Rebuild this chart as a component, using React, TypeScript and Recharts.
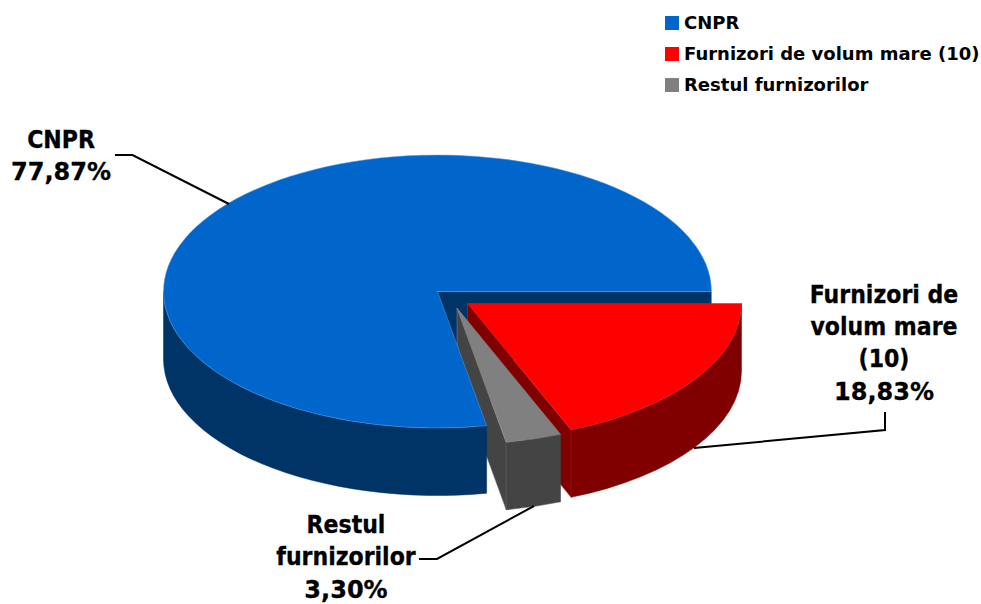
import React from 'react';
import { PieChart, Pie, Legend } from 'recharts';

const categories = ['CNPR', 'Furnizori de volum mare (10)', 'Restul furnizorilor'];
const shares = [77.87, 18.83, 3.3];
const labelRows = [['CNPR'], ['Furnizori de', 'volum mare', '(10)'], ['Restul', 'furnizorilor']];

const topColors = ['#0066CC', '#FF0000', '#808080'];
const sideColors = ['#003366', '#800000', '#444444'];
const edgeColors = ['#5B9BE0', '#B03030', '#8A8A8A'];

const FONT = '"DejaVu Sans", sans-serif';
const CX = 437.5;
const CY = 291.5;
const RX = 274;
const RY = 136.5;
const DEPTH = 67.5;

// how far each slice is pulled out of the pie
const explode = [
  { dx: 0, dy: 0 },
  { dx: 30, dy: 12 },
  { dx: 19.5, dy: 16.5 },
];

const labelStyles = [
  { x: 61, y: 148, leader: '115,155 132.5,155 229,204' },
  { x: 884, y: 302.5, leader: '885,412 885,430 694,448' },
  { x: 346, y: 533, leader: '419,559 437,559 534,506' },
];

const table = categories.map((name, i) => ({
  name,
  value: shares[i],
  fill: topColors[i],
  slice: i,
}));

const rad = (a: number) => (a * Math.PI) / 180;

const SliceParts = ({ sector, show }: { sector: any; show: 'back' | 'front' | 'all' }) => {
  const i = sector.slice ?? sector.payload?.slice ?? 0;
  const { dx, dy } = explode[i];
  const cx = CX + dx;
  const cy = CY + dy;

  let lo = Math.min(sector.startAngle, sector.endAngle);
  let hi = Math.max(sector.startAngle, sector.endAngle);
  if (hi < 1) {
    lo += 360;
    hi += 360;
  }
  const px = (a: number) => cx + RX * Math.cos(rad(a));
  const py = (a: number) => cy - RY * Math.sin(rad(a));

  const face = (a: number) =>
    `M${cx},${cy} L${px(a)},${py(a)} L${px(a)},${py(a) + DEPTH} L${cx},${cy + DEPTH} Z`;

  const faces: string[] = [];
  if (Math.cos(rad(lo)) > 0) faces.push(face(lo));
  if (Math.cos(rad(hi)) < 0) faces.push(face(hi));

  const wallLo = Math.max(lo, 180);
  const wallHi = Math.min(hi, 360);
  const wall =
    wallHi > wallLo
      ? `M${px(wallLo)},${py(wallLo)} A${RX},${RY} 0 0 0 ${px(wallHi)},${py(wallHi)} ` +
        `L${px(wallHi)},${py(wallHi) + DEPTH} A${RX},${RY} 0 0 1 ${px(wallLo)},${py(wallLo) + DEPTH} Z`
      : '';

  const large = hi - lo > 180 ? 1 : 0;
  const top = `M${cx},${cy} L${px(lo)},${py(lo)} A${RX},${RY} 0 ${large} 0 ${px(hi)},${py(hi)} Z`;

  return (
    <g>
      {show !== 'front' &&
        faces.map((d) => <path key={d} d={d} fill={sideColors[i]} stroke={edgeColors[i]} strokeWidth={0.5} />)}
      {show !== 'back' && wall && <path d={wall} fill={sideColors[i]} stroke={sideColors[i]} strokeWidth={0.5} />}
      {show !== 'back' && <path d={top} fill={topColors[i]} stroke={edgeColors[i]} strokeWidth={0.5} />}
    </g>
  );
};

// the big slice has to sit over the walls of the exploded ones, but its cut face stays behind them
const backShape = (props: any) => <SliceParts sector={props} show={(props.slice ?? 0) === 0 ? 'back' : 'all'} />;
const frontShape = (props: any) => ((props.slice ?? 0) === 0 ? <SliceParts sector={props} show="front" /> : <g />);

const renderLabel = (props: any) => {
  const i = categories.indexOf(props.name);
  const style = labelStyles[i];
  const percent = `${shares[i].toFixed(2).replace('.', ',')}%`;
  const rows = [...labelRows[i], percent];
  return (
    <g key={props.name}>
      <polyline points={style.leader} fill="none" stroke="#000000" strokeWidth={2} />
      <text
        x={style.x}
        y={style.y}
        textAnchor="middle"
        fontFamily={FONT}
        fontWeight={700}
        fill="#000000"
        stroke="#000000"
        strokeWidth={0.3}
      >
        {rows.map((row, r) => (
          <tspan
            key={row}
            x={style.x}
            dy={r === 0 ? 0 : 32.4}
            fontSize={row === percent ? 24 : 24.5}
            fontStretch={row === percent ? 'normal' : 'condensed'}
          >
            {row}
          </tspan>
        ))}
      </text>
    </g>
  );
};

const renderLegend = ({ payload }: any) => {
  // both Pie layers report their slices, keep one entry per category
  const items = categories.map((name) => (payload ?? []).find((p: any) => p.value === name)).filter(Boolean);
  return (
    <div>
      {items.map((item: any) => (
        <div key={item.value} style={{ display: 'flex', alignItems: 'center', height: 31 }}>
          <span style={{ width: 14, height: 14, marginRight: 5, background: item.color, display: 'block' }} />
          <span style={{ fontFamily: FONT, fontWeight: 700, fontSize: 18, color: '#000000', whiteSpace: 'nowrap' }}>
            {item.value}
          </span>
        </div>
      ))}
    </div>
  );
};

export default function App() {
  return (
    <div style={{ position: 'absolute', left: 0, top: 0, width: 981, height: 604, background: '#ffffff' }}>
      <PieChart width={981} height={604} margin={{ top: 0, right: 0, bottom: 0, left: 0 }}>
        <Legend
          content={renderLegend}
          layout="vertical"
          verticalAlign="top"
          align="left"
          wrapperStyle={{ left: 665, top: 7, width: 316 }}
        />
        <Pie
          data={table}
          dataKey="value"
          nameKey="name"
          cx={CX}
          cy={CY}
          outerRadius={RX}
          startAngle={280.33}
          endAngle={-79.67}
          stroke="none"
          shape={backShape}
          inactiveShape={backShape}
          activeShape={backShape}
          isAnimationActive={false}
        />
        <Pie
          data={table}
          dataKey="value"
          nameKey="name"
          cx={CX}
          cy={CY}
          outerRadius={RX}
          startAngle={280.33}
          endAngle={-79.67}
          stroke="none"
          shape={frontShape}
          inactiveShape={frontShape}
          activeShape={frontShape}
          legendType="none"
          label={renderLabel}
          labelLine={false}
          isAnimationActive={false}
        />
      </PieChart>
    </div>
  );
}
